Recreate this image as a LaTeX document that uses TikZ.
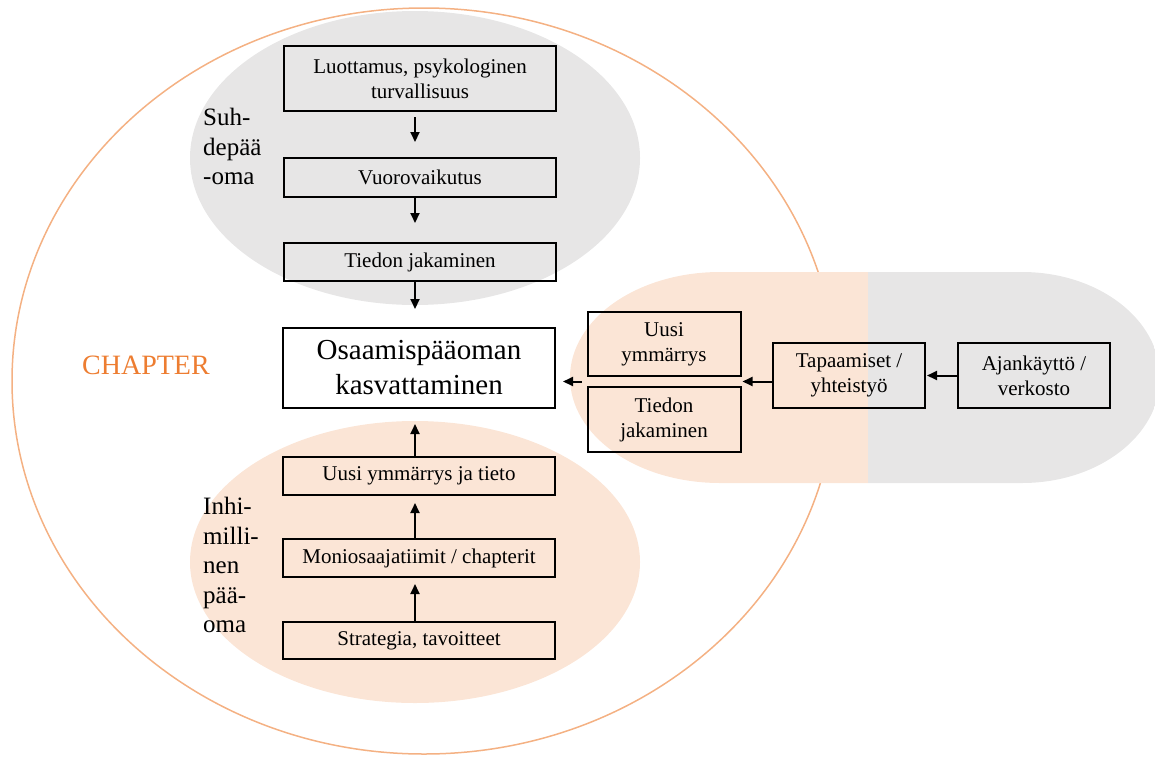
\documentclass[tikz,border=0pt]{standalone}
\usepackage{fontspec}
\setmainfont{Liberation Serif}
\usetikzlibrary{arrows.meta}
\definecolor{greyfill}{HTML}{E7E6E6}
\definecolor{peachfill}{HTML}{FBE5D6}
\definecolor{orangeline}{HTML}{F4B183}
\definecolor{orangetext}{HTML}{ED7D31}
\begin{document}
\begin{tikzpicture}[x=1pt,y=-1pt,
  box/.style={draw=black, line width=2pt, inner sep=0pt, align=center,
    font=\fontsize{21}{25}\selectfont},
  colbox/.style={box, minimum width=272pt},
  sidebox/.style={box, minimum width=153pt},
  arr/.style={line width=2pt, -{Triangle[length=10pt,width=9pt]}},
  sidelabel/.style={anchor=north west, inner sep=0pt, align=left,
    font=\fontsize{25}{29.5}\selectfont}]
\useasboundingbox (0,0) rectangle (1155,758);
% outer chapter ellipse
\draw[orangeline, line width=1.5pt] (424,381) ellipse [x radius=412pt, y radius=373pt];
% grey and peach ellipses
\fill[greyfill] (415,158) ellipse [x radius=225pt, y radius=147pt];
\fill[peachfill] (415,562) ellipse [x radius=225pt, y radius=141pt];
% right pill
\begin{scope}
\clip (720,272) -- (1022,272)
  arc[start angle=90, end angle=-90, x radius=138pt, y radius=105.5pt]
  -- (720,483)
  arc[start angle=270, end angle=90, x radius=150pt, y radius=105.5pt] -- cycle;
\fill[peachfill] (540,250) rectangle (868,500);
\fill[greyfill] (868,250) rectangle (1200,500);
\end{scope}
% labels
\node[anchor=west, inner sep=0pt, text=orangetext, font=\fontsize{28}{32}\selectfont] (chap) at (82,365) {CHAPTER};
\node[sidelabel] (suh) at (203,108) {Suh-\\depää\\-oma};
\node[sidelabel] (inhi) at (203,497) {Inhi-\\milli-\\nen\\pää-\\oma};
% column boxes
\node[colbox, minimum height=65pt] (luo) at (420,78.5) {Luottamus, psykologinen\\turvallisuus};
\node[colbox, minimum height=39pt] (vuo) at (420,177.5) {Vuorovaikutus};
\node[colbox, minimum height=38pt] (tie) at (420,262) {Tiedon jakaminen};
\node[colbox, minimum height=80pt, font=\fontsize{29}{35}\selectfont] (osa) at (419,368) {Osaamispääoman\\kasvattaminen};
\node[colbox, minimum height=38pt] (uym) at (419,476) {Uusi ymmärrys ja tieto};
\node[colbox, minimum height=38pt] (mon) at (419,558) {Moniosaajatiimit / chapterit};
\node[colbox, minimum height=37pt] (str) at (419,640.5) {Strategia, tavoitteet};
% right boxes
\node[sidebox, minimum height=64pt] (uusi) at (664,344) {Uusi\\ymmärrys};
\node[sidebox, minimum height=65pt] (tied) at (664,419.5) {Tiedon\\jakaminen};
\node[box, minimum width=152pt, minimum height=65pt] (tap) at (849,375.5) {Tapaamiset /\\yhteistyö};
\node[box, minimum width=152pt, minimum height=65pt] (aja) at (1034,375.5) {Ajankäyttö /\\verkosto};
% helper coordinates
\coordinate (col) at (415,0);
\path (uusi.south west) -- (tied.north west) coordinate[pos=0.5] (pairL);
\path (uusi.south east) -- (tied.north east) coordinate[pos=0.5] (pairR);
% arrows
\draw[arr, shorten <=5pt, shorten >=15pt] (luo.south -| col) -- (vuo.north -| col);
\draw[arr, shorten >=19pt] (vuo.south -| col) -- (tie.north -| col);
\draw[arr, shorten >=18pt] (tie.south -| col) -- (osa.north -| col);
\draw[arr, shorten >=15pt] (uym.north -| col) -- (osa.south -| col);
\draw[arr, shorten >=7pt] (mon.north -| col) -- (uym.south -| col);
\draw[arr, shorten >=6pt] (str.north -| col) -- (mon.south -| col);
\draw[arr, shorten <=5pt, shorten >=7pt] (pairL) -- (osa.east |- pairL);
\draw[arr, shorten >=1pt] (tap.west |- pairR) -- (pairR);
\draw[arr, shorten >=1pt] (aja.west) -- (tap.east);
\end{tikzpicture}
\end{document}
